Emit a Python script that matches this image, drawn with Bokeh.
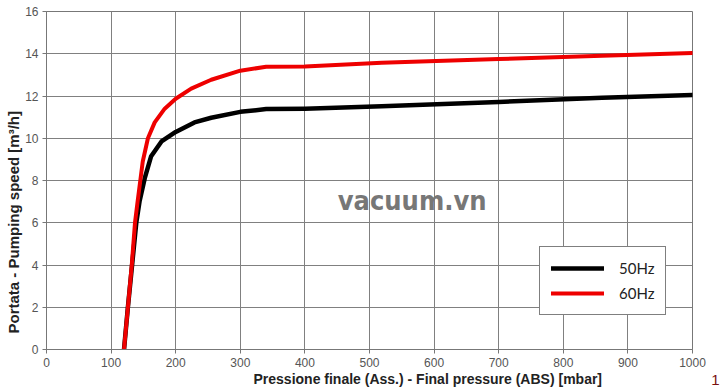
import math
from bokeh.plotting import figure
from bokeh.models import Label, Legend, LegendItem, FixedTicker, Range1d, Title
from bokeh.embed import file_html
from bokeh.resources import INLINE

# Data
pressure_50 = [120, 126, 132.5, 139, 144, 152, 162, 178, 200, 229, 255, 300, 340, 400, 519, 700, 860, 1000]
speed_50 = [0, 2, 4, 6, 7.0, 8.1, 9.15, 9.85, 10.3, 10.75, 10.97, 11.25, 11.38, 11.4, 11.52, 11.72, 11.92, 12.05]

pressure_60 = [120, 126, 132, 137, 141, 149, 157, 167.5, 183, 200, 224, 255, 300, 340, 400, 519, 700, 860, 1000]
speed_60 = [0, 2, 4, 6, 7.0, 8.9, 10.0, 10.75, 11.4, 11.87, 12.35, 12.77, 13.2, 13.38, 13.4, 13.57, 13.75, 13.9, 14.03]

x_ticks = [0, 100, 200, 300, 400, 500, 600, 700, 800, 900, 1000]
y_ticks = [0, 2, 4, 6, 8, 10, 12, 14, 16]

series_names = ["50Hz", "60Hz"]
x_label_text = "Pressione finale (Ass.) - Final pressure (ABS) [mbar]"
y_label_text = "Portata - Pumping speed [m\u00b3/h]"
watermark_text = "vacuum.vn"
page_mark = "1"

p = figure(frame_width=646, frame_height=338, output_backend="svg", toolbar_location=None,
           x_range=Range1d(0, 1000), y_range=Range1d(0, 16),
           min_border_left=46, min_border_right=28, min_border_top=11, min_border_bottom=41)
p.background_fill_color = "white"
p.border_fill_color = "white"
p.outline_line_color = "#777777"
p.outline_line_width = 1

for ax in (p.xaxis[0], p.yaxis[0]):
    ax.axis_line_color = "#777777"
    ax.major_tick_line_color = "#777777"
    ax.major_tick_out = 4
    ax.major_tick_in = 0
    ax.minor_tick_line_color = None
    ax.major_label_text_font = "Liberation Sans"
    ax.major_label_text_font_size = "12px"
    ax.major_label_text_color = "#555555"
    ax.major_label_standoff = 4

p.xaxis.ticker = FixedTicker(ticks=x_ticks)
p.yaxis.ticker = FixedTicker(ticks=y_ticks)

p.xgrid.ticker = FixedTicker(ticks=x_ticks)
p.ygrid.ticker = FixedTicker(ticks=y_ticks)
p.grid.grid_line_color = "#808080"
p.grid.grid_line_width = 1
p.grid.grid_line_alpha = 1.0

# bottom row: a thin spacer, then the x title (zero-height row) and the page mark
p.add_layout(Title(text=" ", text_font_size="2px", standoff=5), "below")
p.add_layout(Title(text=x_label_text, align="left", offset=207, standoff=-20, vertical_align="middle",
                   text_font="Liberation Sans", text_font_style="bold", text_font_size="14px",
                   text_color="#222222"), "below")
p.add_layout(Title(text=page_mark, align="right", offset=-27, standoff=-8, vertical_align="top",
                   text_font="Liberation Sans", text_font_size="15px", text_font_style="normal",
                   text_color="#7a1010"), "below")

p.add_layout(Title(text=y_label_text, align="left", offset=16, standoff=2,
                   text_font="Liberation Sans", text_font_style="bold", text_font_size="15px",
                   text_color="#222222"), "left")

# watermark
p.add_layout(Label(x=566, y=7.05, text=watermark_text, text_align="center", text_baseline="middle",
                   text_font="DejaVu Sans Condensed", text_font_style="bold", text_font_size="27px",
                   text_color="#777777"))

r50 = p.line(pressure_50, speed_50, line_color="black", line_width=4.5, line_join="round", line_cap="round")
r60 = p.line(pressure_60, speed_60, line_color="#ee0000", line_width=4, line_join="round", line_cap="round")

legend = Legend(items=[LegendItem(label=series_names[0], renderers=[r50]),
                       LegendItem(label=series_names[1], renderers=[r60])],
                location=(493, 34))
legend.label_text_font = "Lato"
legend.label_text_font_size = "15px"
legend.label_text_color = "#222222"
legend.glyph_width = 53
legend.glyph_height = 20
legend.label_height = 20
legend.label_standoff = 15
legend.spacing = 5
legend.padding = 11
legend.margin = 0
legend.border_line_color = "black"
legend.border_line_width = 1
legend.background_fill_color = "white"
legend.background_fill_alpha = 1.0
p.add_layout(legend, "center")

open("out.html", "w").write(file_html(p, INLINE))
